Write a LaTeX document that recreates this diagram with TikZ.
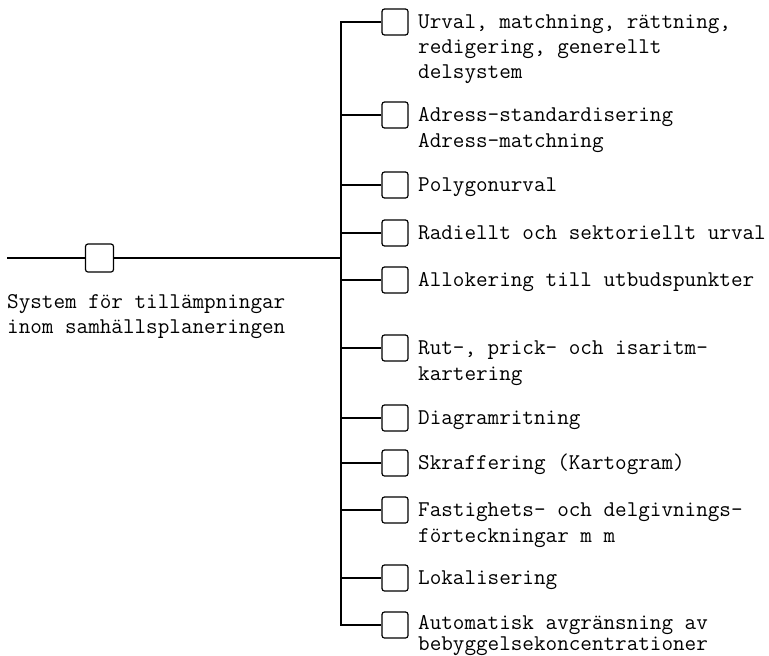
\documentclass[tikz,border=0pt]{standalone}
\usepackage{fontspec}
\newcommand{\lblfont}{\ttfamily\fontsize{22.5}{26}\selectfont}
\newcommand{\lns}[1]{\begin{tabular}[t]{@{}l@{}}#1\end{tabular}}
\begin{document}
\begin{tikzpicture}[x=1pt,y=-1pt,
  conn/.style={line width=1.2pt},
  modbox/.style={draw,line width=1.2pt,rounded corners=2.5pt,minimum width=26pt,minimum height=26pt,inner sep=0pt},
  lbl/.style={anchor=base west,inner sep=0pt,font=\lblfont}]
\useasboundingbox (0,0) rectangle (769,656);

% main system
\coordinate (start) at (7,258);
\coordinate (trunk) at (341,0);
\node[modbox,minimum width=28pt,minimum height=28pt] (main) at (99.5,258) {};
\node[lbl] (maintxt) at (7,308) {\lns{System för tillämpningar\\[-1pt]inom samhällsplaneringen}};
\draw[conn] (start) -- (main.west);
\draw[conn] (main.east) -- (main.east -| trunk);

% subsystems: name / branch height / baseline offset / label
\foreach \n/\y/\d/\t in {
  b1/22/6/{Urval, matchning, rättning,\\[-1pt]redigering, generellt\\[-1pt]delsystem},
  b2/115/6/{Adress-standardisering\\Adress-matchning},
  b3/185/6/{Polygonurval},
  b4/233/6/{Radiellt och sektoriellt urval},
  b5/280/6/{Allokering till utbudspunkter},
  b6/348/6/{Rut-, prick- och isaritm-\\kartering},
  b7/418/6/{Diagramritning},
  b8/463/6/{Skraffering (Kartogram)},
  b9/510/6/{Fastighets- och delgivnings-\\förteckningar m m},
  b10/578/6/{Lokalisering},
  b11/625/4/{Automatisk avgränsning av\\[-5pt]bebyggelsekoncentrationer}}{
  \node[modbox] (\n) at (395,\y) {};
  \node[lbl] (\n txt) at (418,\y+\d) {\lns{\t}};
}

% trunk with branches
\draw[conn] (b1.west) -- (b1.west -| trunk) -- (b11.west -| trunk) -- (b11.west);
\foreach \n in {b2,b3,b4,b5,b6,b7,b8,b9,b10}
  \draw[conn] (\n.west) -- (\n.west -| trunk);
\end{tikzpicture}
\end{document}
